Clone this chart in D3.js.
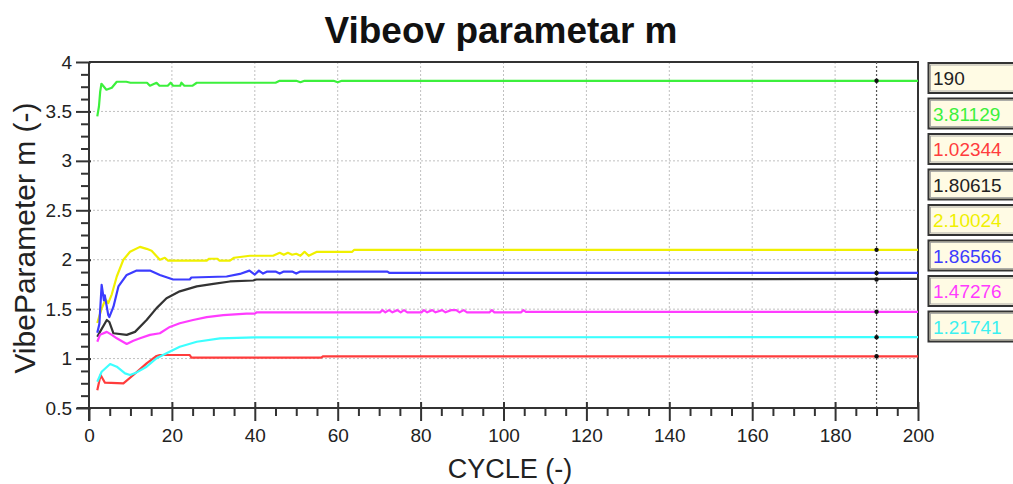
<!DOCTYPE html>
<html><head><meta charset="utf-8">
<script src="https://cdn.jsdelivr.net/npm/d3@7"></script>
<style>body{margin:0;background:#fff;} svg{display:block;font-family:"Liberation Sans",Arial,sans-serif;}</style>
</head><body><svg id="c" width="1013" height="484"></svg>
<script>
const title = "Vibeov parametar m";
const xLabel = "CYCLE (-)";
const yLabel = "VibeParameter m (-)";
const xTicks = [0,20,40,60,80,100,120,140,160,180,200];
const yTicks = [0.5,1,1.5,2,2.5,3,3.5,4];
const cursorCycle = 190;
const legendValues = ["190","3.81129","1.02344","1.80615","2.10024","1.86566","1.47276","1.21741"];
const seriesNames = ["green","red","black","yellow","blue","magenta","cyan"];

const green = [[2,3.45],[2.4,3.55],[2.7,3.7],[3,3.78],[4.2,3.72],[5.5,3.74],[6.7,3.8],[9,3.8],[10,3.79],[14,3.79],[14.7,3.76],[16.3,3.79],[17,3.76],[19,3.76],[19.7,3.79],[20.3,3.76],[22,3.76],[22.3,3.79],[23,3.76],[25,3.76],[26,3.79],[45,3.79],[46,3.81],[50,3.81],[51,3.795],[52,3.81],[59,3.81],[60,3.795],[61,3.81],[200,3.81]];
const red = [[2,0.68],[2.8,0.834],[3.85,0.756],[8.3,0.75],[10.7,0.834],[13.9,0.952],[16.3,1.026],[17.1,1.036],[24.3,1.036],[24.7,1.01],[56,1.01],[56.5,1.023],[200,1.023]];
const black = [[2,1.22],[2.65,1.27],[4.3,1.39],[4.9,1.37],[5.9,1.256],[9.1,1.24],[11.1,1.27],[13.9,1.39],[16.3,1.51],[18.7,1.61],[21.9,1.68],[26,1.73],[30,1.755],[34,1.78],[39.6,1.79],[40.4,1.8],[200,1.806]];
const yellow = [[2,1.36],[3,1.5],[4,1.6],[4.65,1.56],[5.5,1.65],[6.7,1.83],[8.3,2.0],[9.9,2.08],[12.3,2.13],[13.9,2.11],[15.1,2.09],[17.1,2.0],[18.3,2.02],[19.1,1.99],[28.4,1.99],[29,2.01],[31,2.01],[31.5,1.99],[34,1.99],[35,2.02],[38.8,2.04],[44.4,2.04],[46,2.07],[47,2.05],[48,2.07],[49,2.05],[50,2.06],[51,2.04],[52,2.08],[53,2.04],[54,2.06],[55,2.08],[63.5,2.08],[64,2.1],[200,2.1]];
const blue = [[2,1.26],[2.5,1.35],[3.05,1.745],[3.6,1.59],[3.8,1.64],[4.65,1.44],[4.9,1.42],[5.9,1.525],[7.1,1.73],[9.1,1.846],[11.5,1.89],[14.7,1.89],[17.1,1.846],[20.3,1.8],[24.3,1.8],[24.7,1.82],[33.2,1.83],[36.4,1.856],[38.7,1.89],[40,1.85],[41,1.89],[42,1.86],[43,1.88],[45,1.88],[46,1.86],[47,1.88],[49,1.88],[50,1.86],[51,1.88],[72,1.88],[72.5,1.866],[200,1.866]];
const magenta = [[2,1.17],[2.65,1.24],[4.3,1.27],[5.5,1.24],[6.7,1.205],[9.1,1.148],[10.7,1.18],[12.3,1.205],[14.7,1.24],[17.1,1.256],[19.5,1.32],[21.9,1.357],[25.1,1.39],[28.4,1.42],[32.4,1.44],[38,1.455],[40,1.455],[40.5,1.468],[70.2,1.468],[70.8,1.49],[71.5,1.468],[72.4,1.49],[73.2,1.468],[74.4,1.49],[75.2,1.468],[76,1.49],[76.8,1.468],[80.2,1.468],[80.8,1.49],[81.6,1.468],[82.8,1.49],[83.6,1.468],[85.2,1.49],[86,1.468],[87.4,1.49],[88.6,1.49],[89.4,1.468],[90.4,1.49],[91.2,1.468],[96.6,1.468],[97.2,1.49],[97.8,1.468],[104.2,1.468],[104.8,1.49],[105.4,1.473],[200,1.473]];
const cyan = [[2,0.766],[3.05,0.867],[5.1,0.945],[6.7,0.918],[8.7,0.85],[9.9,0.834],[11.5,0.86],[13.9,0.918],[16.3,1.003],[18.7,1.054],[21.9,1.12],[26,1.17],[31.6,1.205],[40,1.215],[200,1.217]];

const seriesData = [green, red, black, yellow, blue, magenta, cyan];
const seriesColors = ["#3cf03c","#ff3c3c","#333333","#f0f000","#3c3cff","#ff3cff","#3cffff"];
const legendColors = ["#222","#3cf03c","#ff3c3c","#222","#f0f000","#3c3cff","#ff3cff","#3cf0f0"];

const svg = d3.select("#c");
const m = {l:89, r:918, t:62, b:408};
const x = d3.scaleLinear().domain([0,200]).range([m.l, m.r]);
const y = d3.scaleLinear().domain([0.5,4]).range([m.b, m.t]);

// grid
const g = svg.append("g");
g.selectAll(".gx").data(xTicks.slice(1,-1)).enter().append("line")
  .attr("x1",d=>x(d)).attr("x2",d=>x(d)).attr("y1",m.t).attr("y2",m.b)
  .attr("stroke","#c0c0c0").attr("stroke-width",1).attr("stroke-dasharray","2,2");
g.selectAll(".gy").data(yTicks.slice(1,-1)).enter().append("line")
  .attr("x1",m.l).attr("x2",m.r).attr("y1",d=>y(d)).attr("y2",d=>y(d))
  .attr("stroke","#c0c0c0").attr("stroke-width",1).attr("stroke-dasharray","2,2");

// frame top/right
svg.append("path").attr("d",`M${m.l},${m.t}H${m.r}V${m.b}`).attr("fill","none").attr("stroke","#333").attr("stroke-width",2);

// cursor
svg.append("line").attr("x1",x(cursorCycle)).attr("x2",x(cursorCycle)).attr("y1",m.t).attr("y2",m.b)
  .attr("stroke","#555").attr("stroke-width",1.2).attr("stroke-dasharray","2,2");

// lines
const line = d3.line().x(d=>x(d[0])).y(d=>y(d[1]));
seriesData.forEach((s,i)=>{
  svg.append("path").attr("d",line(s)).attr("fill","none").attr("stroke",seriesColors[i]).attr("stroke-width",2.2).attr("stroke-linejoin","round");
});
// cursor dots
seriesData.forEach((s,i)=>{
  const v = s.reduce((a,p)=> p[0]<=cursorCycle ? p : a, s[0]);
  svg.append("circle").attr("cx",x(cursorCycle)).attr("cy",y(v[1])).attr("r",2.2).attr("fill","#111");
});

// axes
const xMinor = d3.range(0,201,5).filter(v=>v%20!==0);
const yMinor = d3.range(0,29).map(i=>0.5+i*0.125).filter(v=>Math.abs(v*2-Math.round(v*2))>1e-6);
const xa = svg.append("g").attr("transform",`translate(0,${m.b})`)
  .call(d3.axisBottom(x).tickValues(xTicks).tickSize(13).tickPadding(8).tickFormat(d3.format("d")));
xa.selectAll(".tick line").attr("y1",-6);
const xam = svg.append("g").attr("transform",`translate(0,${m.b})`)
  .call(d3.axisBottom(x).tickValues(xMinor).tickSize(8).tickFormat(""));
xam.select(".domain").remove();
const ya = svg.append("g").attr("transform",`translate(${m.l},0)`)
  .call(d3.axisLeft(y).tickValues(yTicks).tickSize(13).tickPadding(4).tickFormat(d=>String(d)));
ya.selectAll(".tick line").attr("x1",2);
const yam = svg.append("g").attr("transform",`translate(${m.l},0)`)
  .call(d3.axisLeft(y).tickValues(yMinor).tickSize(8).tickFormat(""));
yam.select(".domain").remove();
[xa,xam,ya,yam].forEach(a=>{
  a.selectAll("line").attr("stroke","#333").attr("stroke-width",2);
  a.selectAll(".domain").attr("stroke","#333").attr("stroke-width",2);
  a.selectAll("text").attr("fill","#222").style("font-size","19px").style("font-family","Liberation Sans, Arial, sans-serif");
});
xa.select(".domain").attr("d",`M${m.l-12},0H${m.r}`);
ya.select(".domain").attr("d",`M0,${m.t}V${m.b+13}`);
xa.selectAll(".tick").filter(d=>d===0).select("line").attr("y1",0);

// titles
svg.append("text").attr("x",501).attr("y",43).attr("text-anchor","middle")
  .style("font-size","37px").style("font-weight","bold").attr("fill","#111").text(title);
svg.append("text").attr("x",510).attr("y",478).attr("text-anchor","middle")
  .style("font-size","27px").attr("fill","#222").text(xLabel);
svg.append("text").attr("transform","translate(35,238) rotate(-90)").attr("text-anchor","middle")
  .style("font-size","30px").attr("fill","#222").text(yLabel);

// legend boxes
const lg = svg.append("g");
legendValues.forEach((v,i)=>{
  const ty = 63 + i*35.5;
  lg.append("rect").attr("x",928.5).attr("y",ty).attr("width",95).attr("height",30)
    .attr("fill","#fffbe4").attr("stroke","#333").attr("stroke-width",2);
  lg.append("rect").attr("x",930.5).attr("y",ty+2).attr("width",91).attr("height",26)
    .attr("fill","none").attr("stroke","#999").attr("stroke-width",0.8);
  lg.append("text").attr("x",933).attr("y",ty+22).style("font-size","19px")
    .attr("fill",legendColors[i]).text(v);
});
</script></body></html>
